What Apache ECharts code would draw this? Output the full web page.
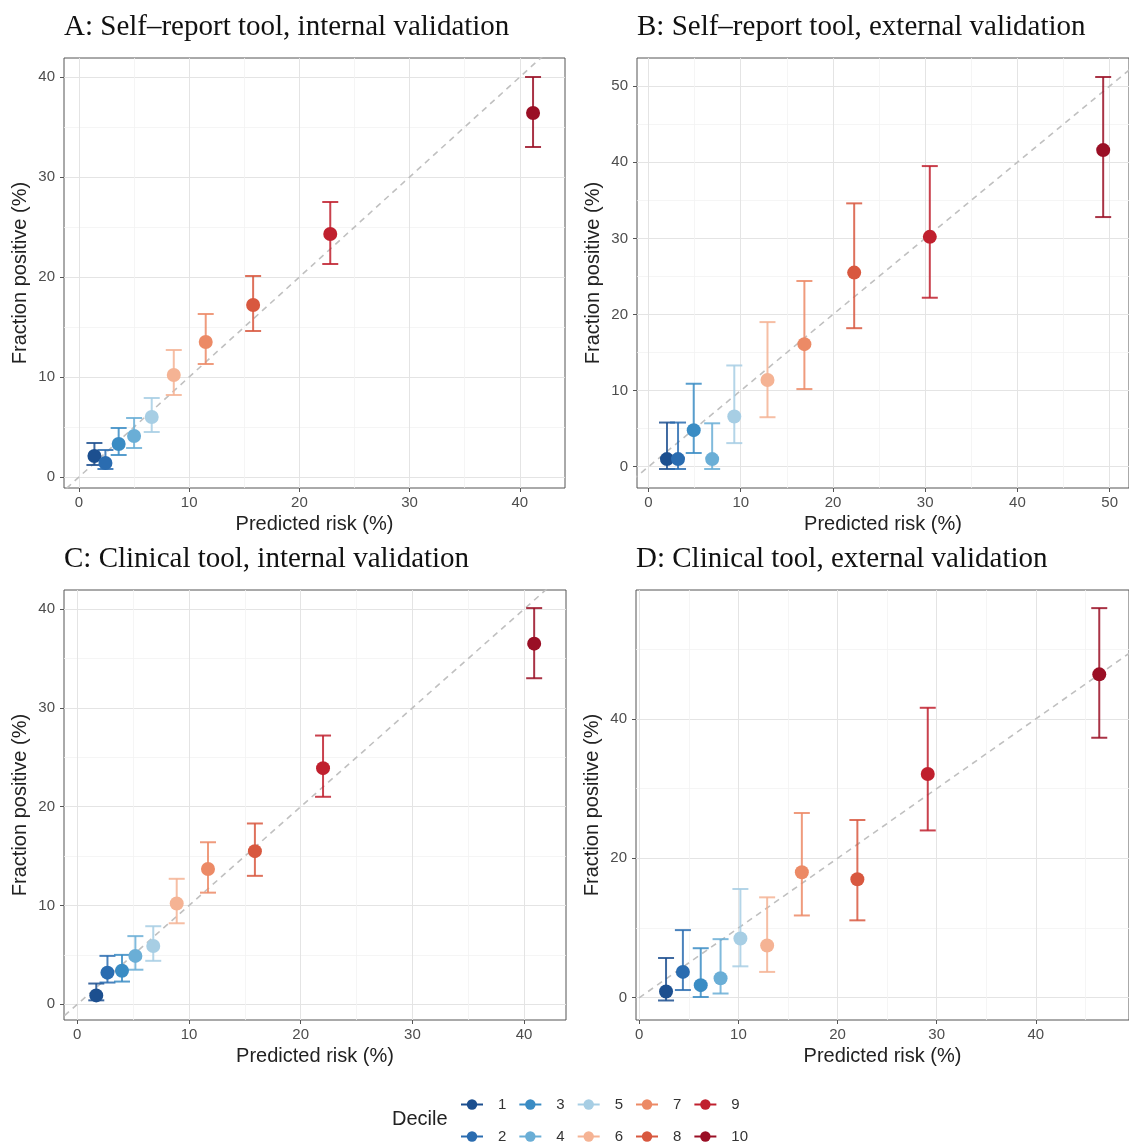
<!DOCTYPE html>
<html>
<head>
<meta charset="utf-8">
<script src="https://cdn.jsdelivr.net/npm/echarts@6/dist/echarts.min.js"></script>
<style>
  html, body { margin: 0; padding: 0; background: #fff; }
  #chart { width: 1129px; height: 1144px; }
</style>
</head>
<body>
<div id="chart"></div>
<script>
  // deciles and their colours
  const deciles = ['1', '2', '3', '4', '5', '6', '7', '8', '9', '10'];
  const decileColors = ['#1c4f8f', '#2a6cb0', '#3a8cc4', '#6aaed6', '#a7cee4',
                        '#f5b394', '#ec8a66', '#d8583f', '#c0202e', '#9a0f25'];

  // A: Self-report tool, internal validation
  const predA = [1.4, 2.4, 3.6, 5.0, 6.6, 8.6, 11.5, 15.8, 22.8, 41.2];
  const obsA  = [2.1, 1.4, 3.3, 4.1, 6.0, 10.2, 13.5, 17.2, 24.3, 36.4];
  const lowA  = [1.2, 0.8, 2.2, 2.9, 4.5, 8.2, 11.3, 14.6, 21.3, 33.0];
  const highA = [3.4, 2.7, 4.9, 5.9, 7.9, 12.7, 16.3, 20.1, 27.5, 40.0];

  // B: Self-report tool, external validation
  const predB = [2.0, 3.2, 4.9, 6.9, 9.3, 12.9, 16.9, 22.3, 30.5, 49.3];
  const obsB  = [1.0, 1.0, 4.8, 1.0, 6.6, 11.4, 16.1, 25.5, 30.2, 41.6];
  const lowB  = [-0.3, -0.3, 1.8, -0.3, 3.1, 6.5, 10.2, 18.2, 22.2, 32.8];
  const highB = [5.8, 5.8, 10.9, 5.7, 13.3, 19.0, 24.4, 34.6, 39.5, 51.2];

  // C: Clinical tool, internal validation
  const predC = [1.7, 2.7, 4.0, 5.2, 6.8, 8.9, 11.7, 15.9, 22.0, 40.9];
  const obsC  = [0.9, 3.2, 3.4, 4.9, 5.9, 10.2, 13.7, 15.5, 23.9, 36.5];
  const lowC  = [0.4, 2.2, 2.3, 3.5, 4.4, 8.2, 11.3, 13.0, 21.0, 33.0];
  const highC = [2.1, 4.9, 5.0, 6.9, 7.9, 12.7, 16.4, 18.3, 27.2, 40.1];

  // D: Clinical tool, external validation
  const predD = [2.7, 4.4, 6.2, 8.2, 10.2, 12.9, 16.4, 22.0, 29.1, 46.4];
  const obsD  = [0.9, 3.7, 1.8, 2.8, 8.5, 7.5, 18.0, 17.0, 32.1, 46.4];
  const lowD  = [-0.4, 1.1, 0.1, 0.6, 4.5, 3.7, 11.8, 11.1, 24.0, 37.3];
  const highD = [5.7, 9.7, 7.1, 8.4, 15.6, 14.4, 26.5, 25.5, 41.6, 55.9];

  // tick labels
  const xTicksA = [0, 10, 20, 30, 40];
  const yTicksA = [0, 10, 20, 30, 40];
  const xTicksB = [0, 10, 20, 30, 40, 50];
  const yTicksB = [0, 10, 20, 30, 40, 50];
  const xTicksC = [0, 10, 20, 30, 40];
  const yTicksC = [0, 10, 20, 30, 40];
  const xTicksD = [0, 10, 20, 30, 40];
  const yTicksD = [0, 20, 40];

  // perfect calibration line y = x
  const identityLine = [[-10, -10], [100, 100]];

  const panels = [
    { title: 'A: Self\u2013report tool, internal validation', pred: predA, obs: obsA, low: lowA, high: highA,
      xTicks: xTicksA, yTicks: yTicksA, grid: { left: 64, top: 58, width: 501, height: 430 },
      x: [-1.36, 44.1], y: [-1.1, 41.9], xStep: 10, yStep: 10 },
    { title: 'B: Self\u2013report tool, external validation', pred: predB, obs: obsB, low: lowB, high: highB,
      xTicks: xTicksB, yTicks: yTicksB, grid: { left: 637, top: 58, width: 498, height: 430 },
      x: [-1.25, 52.1], y: [-2.8, 53.7], xStep: 10, yStep: 10 },
    { title: 'C: Clinical tool, internal validation', pred: predC, obs: obsC, low: lowC, high: highC,
      xTicks: xTicksC, yTicks: yTicksC, grid: { left: 64, top: 590, width: 502, height: 430 },
      x: [-1.19, 43.75], y: [-1.59, 41.93], xStep: 10, yStep: 10 },
    { title: 'D: Clinical tool, external validation', pred: predD, obs: obsD, low: lowD, high: highD,
      xTicks: xTicksD, yTicks: yTicksD, grid: { left: 636, top: 590, width: 502, height: 430 },
      x: [-0.33, 49.4], y: [-3.2, 58.5], xStep: 10, yStep: 20 }
  ];

  const sans = 'Liberation Sans, Arial, sans-serif';

  function axisCommon(ticks, step, min, max) {
    return {
      type: 'value', min: min, max: max, minInterval: step, maxInterval: step,
      axisLine: { show: false, onZero: false },
      axisTick: { show: true, length: 4, lineStyle: { color: '#555' }, customValues: ticks },
      axisLabel: { customValues: ticks, color: '#4d4d4d', fontSize: 15, fontFamily: sans },
      splitLine: { show: true, lineStyle: { color: '#e4e4e4', width: 1 } },
      minorTick: { show: false, splitNumber: 2 },
      minorSplitLine: { show: true, lineStyle: { color: '#f2f2f2', width: 0.8 } },
      nameLocation: 'middle',
      nameTextStyle: { color: '#222', fontSize: 20, fontFamily: sans }
    };
  }

  function renderErrorBar(params, api) {
    const x = api.value(0);
    const top = api.coord([x, api.value(2)]);
    const bot = api.coord([x, api.value(1)]);
    const color = decileColors[api.value(3) - 1];
    const half = 8;
    const style = { stroke: color, lineWidth: 2, opacity: 0.85 };
    return {
      type: 'group',
      children: [
        { type: 'line', shape: { x1: top[0], y1: top[1], x2: bot[0], y2: bot[1] }, style: style },
        { type: 'line', shape: { x1: top[0] - half, y1: top[1], x2: top[0] + half, y2: top[1] }, style: style },
        { type: 'line', shape: { x1: bot[0] - half, y1: bot[1], x2: bot[0] + half, y2: bot[1] }, style: style }
      ]
    };
  }

  let options = {
    backgroundColor: '#fff',
    animation: false,
    title: [],
    grid: [],
    xAxis: [],
    yAxis: [],
    legend: [],
    series: []
  };

  panels.forEach(function (p, i) {
    options.title.push({
      text: p.title, left: p.grid.left, top: p.grid.top - 45, padding: 0,
      textStyle: { fontFamily: 'Liberation Serif, Times New Roman, serif', fontSize: 29, fontWeight: 'normal', color: '#111' }
    });
    options.grid.push(Object.assign({ show: true, borderColor: '#555', borderWidth: 1, backgroundColor: '#fff' }, p.grid));

    let xa = axisCommon(p.xTicks, p.xStep, p.x[0], p.x[1]);
    xa.gridIndex = i;
    xa.name = 'Predicted risk (%)';
    xa.nameGap = 26;
    xa.axisLabel.margin = 7;
    options.xAxis.push(xa);

    let ya = axisCommon(p.yTicks, p.yStep, p.y[0], p.y[1]);
    ya.gridIndex = i;
    ya.name = 'Fraction positive (%)';
    ya.nameGap = 34;
    ya.axisLabel.margin = 9;
    options.yAxis.push(ya);

    options.series.push({
      type: 'line', xAxisIndex: i, yAxisIndex: i, data: identityLine, symbol: 'none', silent: true,
      lineStyle: { color: '#c0c0c0', width: 1.6, type: [6, 5] }, z: 2
    });
    options.series.push({
      type: 'custom', xAxisIndex: i, yAxisIndex: i, renderItem: renderErrorBar, z: 3,
      encode: { x: 0, y: [1, 2] },
      data: p.pred.map(function (v, k) { return [v, p.low[k], p.high[k], k + 1]; })
    });
    options.series.push({
      type: 'scatter', xAxisIndex: i, yAxisIndex: i, symbolSize: 14, z: 4,
      itemStyle: { color: function (q) { return decileColors[q.value[2] - 1]; }, opacity: 1 },
      data: p.pred.map(function (v, k) { return [v, p.obs[k], k + 1]; })
    });
  });

  // legend keys (line + point), one empty series per decile
  deciles.forEach(function (d, k) {
    options.series.push({
      type: 'line', name: d, xAxisIndex: 0, yAxisIndex: 0, data: [], symbol: 'circle',
      color: decileColors[k], lineStyle: { width: 2 }
    });
  });

  const legendCommon = {
    left: 460, itemWidth: 22, itemHeight: 13, itemGap: 12, selectedMode: false, padding: 0,
    textStyle: { fontSize: 15, color: '#333', fontFamily: sans, padding: [0, 0, 0, 10] }
  };
  options.legend.push(Object.assign({ top: 1097, data: ['1', '3', '5', '7', '9'] }, legendCommon));
  options.legend.push(Object.assign({ top: 1129, data: ['2', '4', '6', '8', '10'] }, legendCommon));

  options.title.push({
    text: 'Decile', left: 392, top: 1109, padding: 0,
    textStyle: { fontFamily: sans, fontSize: 20, fontWeight: 'normal', color: '#222' }
  });

  const mycharts = echarts.init(document.getElementById('chart'));
  mycharts.setOption(options);
</script>
</body>
</html>
